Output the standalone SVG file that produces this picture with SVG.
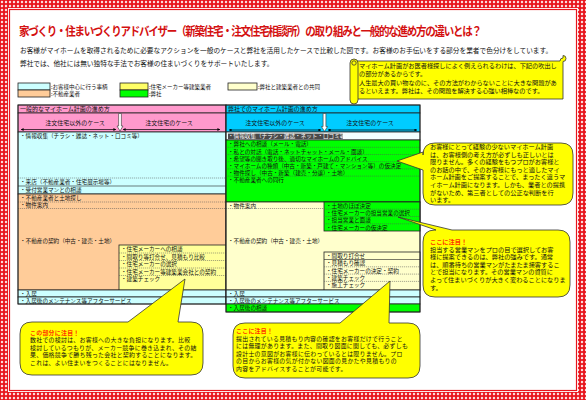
<svg xmlns="http://www.w3.org/2000/svg" width="586" height="400" viewBox="0 0 586 400">
<defs>
<pattern id="zig" width="4" height="4" patternUnits="userSpaceOnUse">
<rect width="4" height="4" fill="#e8141c"/>
<path d="M2,0.6 L3.4,2 L2,3.4 L0.6,2 Z" fill="#ffffff"/>
</pattern>
<marker id="ah" viewBox="0 0 6 6" refX="5.5" refY="3" markerWidth="4" markerHeight="4" orient="auto-start-reverse">
<path d="M0,0 L6,3 L0,6 Z" fill="#000"/>
</marker>
<style>
.t{font-family:"Noto Sans CJK JP","Noto Sans CJK SC",sans-serif;fill:#111}
.tb{font-size:5.6px}
.hd{font-size:6px}
.cl{font-size:6.2px}
.cb{font-size:5.9px;letter-spacing:0.3px}
.lg{font-size:5.5px}
.em{fill:#ff3300;font-weight:bold}
.bd{stroke:#222;stroke-width:0.8}
.sep{stroke:#555;stroke-width:0.5;stroke-dasharray:1.2 0.8;fill:none}
.ln{stroke:#222;stroke-width:0.6;fill:none}
.co{fill:#ffff00;stroke:#333;stroke-width:0.8}
.arr{stroke:#000;stroke-width:0.7;marker-start:url(#ah);marker-end:url(#ah)}
.wa{fill:#fff;stroke:#333;stroke-width:0.6}
</style>
</defs>
<rect width="586" height="400" fill="#fff"/>
<g id="frame">
<rect x="4" y="4" width="578" height="392" fill="none" stroke="url(#zig)" stroke-width="8"/>
<rect x="9.5" y="9.5" width="567" height="381" fill="none" stroke="#e8141c" stroke-width="1.2"/>
</g>
<g id="title">
<text class="t" transform="translate(19,36) scale(1,1.15)" x="0" y="0" font-size="10.5" font-weight="bold" letter-spacing="-1.25" style="fill:#d41010">家づくり・住まいづくりアドバイザー（新築住宅・注文住宅相談所）の取り組みと一般的な進め方の違いとは？</text>
<text class="t" x="20" y="53" font-size="6.7">お客様がマイホームを取得されるために必要なアクションを一般のケースと弊社を活用したケースで比較した図です。お客様のお手伝いをする部分を業者で色分けをしています。</text>
<text class="t" x="20" y="66" font-size="6.7">弊社では、他社には無い独特な手法でお客様の住まいづくりをサポートいたします。</text>
</g>
<g id="legend">
<rect x="18" y="83" width="32" height="7" fill="#ccffff" class="bd"/>
<rect x="18" y="90" width="32" height="7" fill="#ffcc99" class="bd"/>
<text class="t lg" x="51" y="88.8">:お客様中心に行う事柄</text>
<text class="t lg" x="51" y="96">:不動産業者</text>
<rect x="120" y="83" width="28" height="7" fill="#ffff66" class="bd"/>
<rect x="120" y="90" width="28" height="7" fill="#00ff00" class="bd"/>
<text class="t lg" x="149" y="88.8">:住宅メーカー等建築業者</text>
<text class="t lg" x="149" y="96">:弊社</text>
<rect x="228" y="83" width="29" height="7" fill="#ffffcc" class="bd"/>
<text class="t lg" x="258" y="88.8">:弊社と建築業者との共同</text>
</g>
<g id="left-table">
<rect x="18" y="105" width="208" height="8" fill="#ff99cc" class="bd"/>
<text class="t hd" x="20" y="111.3">一般的なマイホーム計画の進め方</text>
<rect x="18" y="113" width="208" height="19" fill="#ff99cc" class="bd"/>
<text class="t hd" x="75" y="125" text-anchor="middle">注文住宅以外のケース</text>
<text class="t hd" x="169" y="125" text-anchor="middle">注文住宅のケース</text>
<line x1="21" y1="129.5" x2="116" y2="129.5" class="arr"/>
<line x1="123" y1="129.5" x2="220" y2="129.5" class="arr"/>
<path d="M118.6,113.5 H121.4 V126 H123 L120,131 L117,126 H118.6 Z" class="wa"/>
<rect x="18" y="132" width="208" height="62" fill="#ccffff" class="bd"/>
<text class="t tb" x="20" y="138">・情報収集（チラシ・雑誌・ネット・口コミ等）</text>
<line x1="18" y1="178" x2="226" y2="178" class="sep"/>
<text class="t tb" x="20" y="184">・来店（不動産業者・住宅展示場等）</text>
<line x1="18" y1="186" x2="226" y2="186" class="ln"/>
<text class="t tb" x="20" y="192">・受付営業マンとの相談</text>
<rect x="18" y="194" width="208" height="96" fill="#ffcc99" class="bd"/>
<text class="t tb" x="20" y="200">・不動産業者と土地探し</text>
<line x1="18" y1="202" x2="226" y2="202" class="sep"/>
<text class="t tb" x="20" y="207.3">・物件案内</text>
<line x1="18" y1="208.5" x2="226" y2="208.5" class="sep"/>
<text class="t tb" x="20" y="243">・不動産の契約（中古・建売・土地）</text>
<rect x="119" y="245" width="107" height="45" fill="#ffff99" class="bd"/>
<text class="t tb" x="121" y="251">・住宅メーカーへの相談</text>
<line x1="119" y1="253" x2="226" y2="253" class="sep"/>
<text class="t tb" x="121" y="258.5">・間取り等打合せ、見積もり比較</text>
<line x1="119" y1="260.5" x2="226" y2="260.5" class="sep"/>
<text class="t tb" x="121" y="266">・住宅メーカーの選択</text>
<line x1="119" y1="268" x2="226" y2="268" class="sep"/>
<text class="t tb" x="121" y="273.5">・住宅メーカー等建築業会社との契約</text>
<line x1="119" y1="275.5" x2="226" y2="275.5" class="sep"/>
<text class="t tb" x="121" y="281">・建築チェック</text>
<rect x="18" y="290" width="208" height="7" fill="#ccffff" class="bd"/>
<text class="t tb" x="20" y="295.8">・入居</text>
<rect x="18" y="297" width="208" height="7" fill="#ccffff" class="bd"/>
<text class="t tb" x="20" y="302.8">・入居後のメンテナンス等アフターサービス</text>
<rect x="18" y="105" width="208" height="199" fill="none" class="bd"/>
</g>
<g id="middle-table">
<rect x="226" y="105" width="194" height="8" fill="#00ccff" class="bd"/>
<text class="t hd" x="228" y="111.3">弊社でのマイホーム計画の進め方</text>
<rect x="226" y="113" width="194" height="19" fill="#00ccff" class="bd"/>
<text class="t hd" x="275" y="125" text-anchor="middle">注文住宅以外のケース</text>
<text class="t hd" x="370" y="125" text-anchor="middle">注文住宅のケース</text>
<line x1="229" y1="130" x2="321" y2="130" class="arr"/>
<line x1="328" y1="130" x2="417" y2="130" class="arr"/>
<path d="M323.1,113.5 H325.9 V126.5 H327.5 L324.5,131.5 L321.5,126.5 H323.1 Z" class="wa"/>
<rect x="226" y="132" width="194" height="8" fill="#f2ffff" class="bd"/>
<rect x="228" y="133.6" width="115" height="5.4" fill="#4a4a4a"/>
<text class="t tb" x="228" y="138" style="fill:#fff">・情報収集（チラシ・雑誌・ネット・口コミ等）</text>
<rect x="226" y="140" width="194" height="62" fill="#00ff00" class="bd"/>
<text class="t tb" x="228" y="146.3">・弊社への相談（メール・電話）</text>
<line x1="226" y1="147.3" x2="420" y2="147.3" class="sep"/>
<text class="t tb" x="228" y="153.5">・私との対話（電話・ネットチャット・メール・面談）</text>
<line x1="226" y1="154.5" x2="420" y2="154.5" class="sep"/>
<text class="t tb" x="228" y="160.7">・希望等の聞き取り後、適切なマイホームのアドバイス</text>
<line x1="226" y1="161.7" x2="420" y2="161.7" class="sep"/>
<text class="t tb" x="228" y="167.9">・マイホームの種類（中古・新築・戸建て・マンション等）の仮決定</text>
<line x1="226" y1="168.9" x2="420" y2="168.9" class="sep"/>
<text class="t tb" x="228" y="175.1">・物件探し（中古・新築（建売・分譲）・土地）</text>
<line x1="226" y1="176.1" x2="420" y2="176.1" class="sep"/>
<text class="t tb" x="228" y="182.3">・不動産業者への同行</text>
<rect x="226" y="202" width="194" height="88" fill="#ffffcc" class="bd"/>
<text class="t tb" x="228" y="207.5">・物件案内</text>
<line x1="226" y1="208.5" x2="324" y2="208.5" class="sep"/>
<text class="t tb" x="228" y="243">・不動産の契約（中古・建売・土地）</text>
<rect x="324" y="202" width="96" height="29" fill="#00ff00" class="bd"/>
<text class="t tb" x="326" y="207.8">・土地のほぼ決定</text>
<line x1="324" y1="209.2" x2="420" y2="209.2" class="sep"/>
<text class="t tb" x="326" y="215">・住宅メーカーの担当営業の選択</text>
<line x1="324" y1="216.5" x2="420" y2="216.5" class="sep"/>
<text class="t tb" x="326" y="222.3">・担当営業と面談</text>
<line x1="324" y1="223.8" x2="420" y2="223.8" class="sep"/>
<text class="t tb" x="326" y="229.5">・住宅メーカーの仮決定</text>
<rect x="324" y="252" width="96" height="38" fill="#ffffcc" class="bd"/>
<text class="t tb" x="326" y="258">・間取り打合せ</text>
<line x1="324" y1="259.5" x2="420" y2="259.5" class="ln"/>
<text class="t tb" x="326" y="265.3">・見積もり確認</text>
<line x1="324" y1="266.8" x2="420" y2="266.8" class="sep"/>
<text class="t tb" x="326" y="272.6">・住宅メーカーの決定・契約</text>
<line x1="324" y1="274.1" x2="420" y2="274.1" class="sep"/>
<text class="t tb" x="326" y="279.9">・建築チェック</text>
<line x1="324" y1="281.4" x2="420" y2="281.4" class="sep"/>
<text class="t tb" x="326" y="287.2">・施工チェック</text>
<rect x="226" y="290" width="194" height="7" fill="#ccffff" class="bd"/>
<text class="t tb" x="228" y="295.8">・入居</text>
<rect x="226" y="297" width="194" height="7" fill="#ccffff" class="bd"/>
<text class="t tb" x="228" y="302.8">・入居後のメンテナンス等アフターサービス</text>
<rect x="226" y="304" width="194" height="8" fill="#00ff00" class="bd"/>
<text class="t tb" x="228" y="310.3">・入居後の相談</text>
<rect x="226" y="105" width="194" height="207" fill="none" class="bd"/>
</g>
<g id="callout-scroll">
<path d="M356,61 H560 A3,3 0 0 1 563,58 V55.5 A3,3 0 0 1 566,58.5 A3,3 0 0 1 563,61.5 V99 H358" class="co"/>
<rect x="350" y="59" width="8" height="45" rx="4" class="co"/>
<circle cx="354" cy="63" r="2.2" class="co"/>
<text class="t cl" x="359" y="68">マイホーム計画がお医者様探しによく例えられるわけは、下記の吹出し</text>
<text class="t cl" x="359" y="76">の部分があるからです。</text>
<text class="t cl" x="359" y="85">人生最大の買い物なのに、その方法がわからないことに大きな問題があ</text>
<text class="t cl" x="359" y="93">るといえます。弊社は、その問題を解決する心強い相棒なのです。</text>
</g>
<g id="callout-right-1">
<path d="M435,143 H561 Q573,143 573,155 V193 Q573,205 561,205 H435 Q423,205 423,193 V170 L397,161 L423,152 V155 Q423,143 435,143 Z" class="co"/>
<text class="t cl" x="430" y="149">お客様にとって経験の少ないマイホーム計画</text>
<text class="t cl" x="430" y="156.6">は、お客様側の考え方が必ずしも正しいとは</text>
<text class="t cl" x="430" y="164.2">限りません。多くの経験をもつプロがお客様と</text>
<text class="t cl" x="430" y="171.8">のお話の中で、そのお客様にもっと適したマイ</text>
<text class="t cl" x="430" y="179.4">ホーム計画をご提案することで、まったく違うマ</text>
<text class="t cl" x="430" y="187">イホーム計画になります。しかも、業者との提携</text>
<text class="t cl" x="430" y="194.6">がないため、第三者としての公正な判断を行</text>
<text class="t cl" x="430" y="202.2">います。</text>
</g>
<g id="callout-right-2">
<path d="M436,230 L398,217 L452,230 H558 Q570,230 570,242 V285 Q570,297 558,297 H435 Q423,297 423,285 V242 Q423,230 435,230 Z" class="co"/>
<text class="t cl em" x="430" y="244">ここに注目！</text>
<text class="t cl" x="430" y="251.6">担当する営業マンをプロの目で選択してお客</text>
<text class="t cl" x="430" y="259.2">様に提案できるのは、弊社の強みです。通常</text>
<text class="t cl" x="430" y="266.8">は、順番待ちの営業マンがたまたま接客するこ</text>
<text class="t cl" x="430" y="274.4">とで担当になります。その営業マンの資質に</text>
<text class="t cl" x="430" y="282">よって住まいづくりが大きく変わることになりま</text>
<text class="t cl" x="430" y="289.6">す。</text>
</g>
<g id="callout-bottom-left">
<path d="M32,322 H128 L185,279 L178,322 H191 Q203,322 203,334 V363 Q203,375 191,375 H32 Q20,375 20,363 V334 Q20,322 32,322 Z" class="co"/>
<text class="t cb em" x="30" y="334.5">この部分に注目！</text>
<text class="t cb" x="30" y="342">数社での検討は、お客様への大きな負担になります。比較</text>
<text class="t cb" x="30" y="349.5">検討しているつもりが、メーカー競争に巻き込まれ、その結</text>
<text class="t cb" x="30" y="357">果、価格競争で勝ち残った会社と契約することになります。</text>
<text class="t cb" x="30" y="364.5">これは、よい住まいをつくることにはなりません。</text>
</g>
<g id="callout-bottom-middle">
<path d="M245,323 H340 L390,281 L389,323 H408 Q420,323 420,335 V366 Q420,378 408,378 H245 Q233,378 233,366 V335 Q233,323 245,323 Z" class="co"/>
<text class="t cb em" x="236" y="333">ここに注目！</text>
<text class="t cb" x="236" y="340.5">提出されている見積もり内容の確認をお客様だけで行うこと</text>
<text class="t cb" x="236" y="348">には無理があります。また、間取り図面に関しても、必ずしも</text>
<text class="t cb" x="236" y="355.5">設計士の意図がお客様に伝わっているとは限りません。プロ</text>
<text class="t cb" x="236" y="363">の目からお客様の気が付かない図面の見かたや見積もりの</text>
<text class="t cb" x="236" y="370.5">内容をアドバイスすることが可能です。</text>
</g>
</svg>
